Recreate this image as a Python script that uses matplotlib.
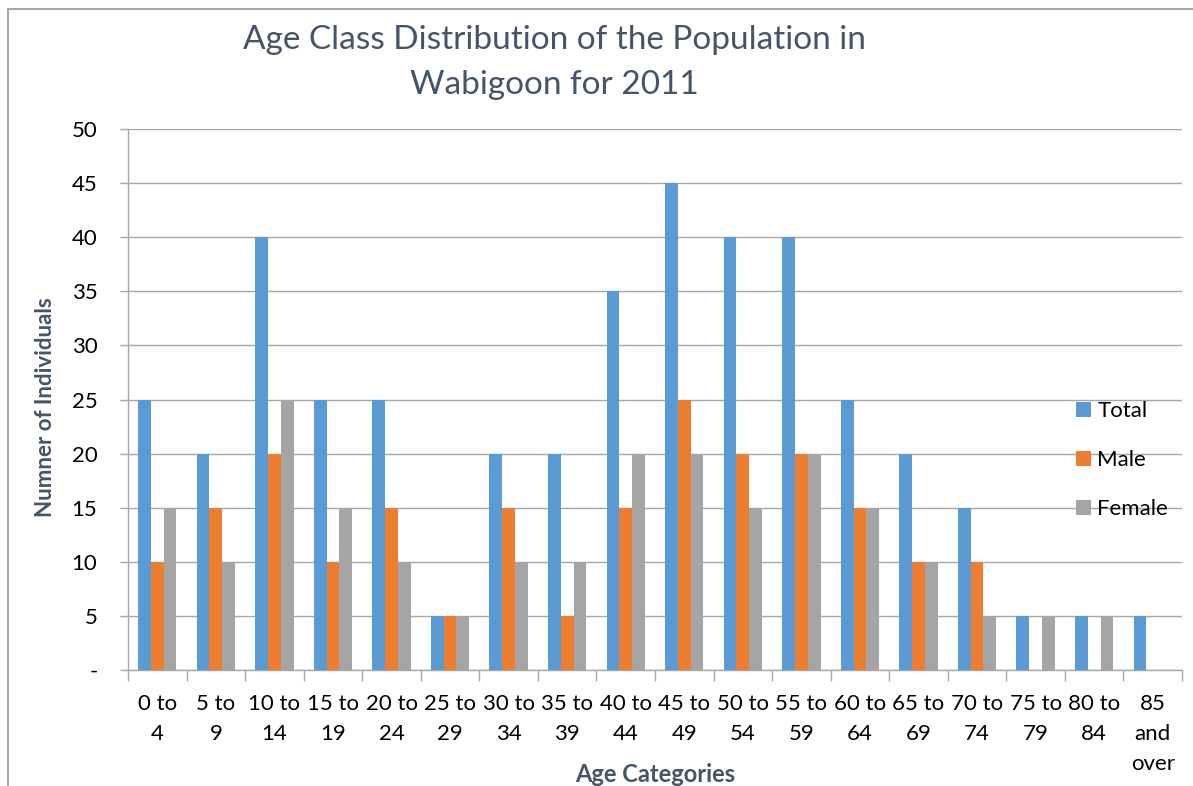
import matplotlib
matplotlib.use("Agg")
import matplotlib.pyplot as plt
import numpy as np
from matplotlib.patches import Rectangle

categories = ["0 to\n4", "5 to\n9", "10 to\n14", "15 to\n19", "20 to\n24", "25 to\n29",
              "30 to\n34", "35 to\n39", "40 to\n44", "45 to\n49", "50 to\n54", "55 to\n59",
              "60 to\n64", "65 to\n69", "70 to\n74", "75 to\n79", "80 to\n84", "85\nand\nover"]
total = [25, 20, 40, 25, 25, 5, 20, 20, 35, 45, 40, 40, 25, 20, 15, 5, 5, 5]
male = [10, 15, 20, 10, 15, 5, 15, 5, 15, 25, 20, 20, 15, 10, 10, 0, 0, 0]
female = [15, 10, 25, 15, 10, 5, 10, 10, 20, 20, 15, 20, 15, 10, 5, 5, 5, 0]
yticks = [0, 5, 10, 15, 20, 25, 30, 35, 40, 45, 50]
ytick_labels = ["-", "5", "10", "15", "20", "25", "30", "35", "40", "45", "50"]

FONT = ["Lato", "DejaVu Sans"]
plt.rcParams["font.family"] = FONT
SLATE = "#44546A"
GRID = "#A6A6A6"

W, H = 1193, 786
fig = plt.figure(figsize=(W / 100, H / 100), dpi=100)
ax = fig.add_axes([128 / W, 1 - 670 / H, (1182 - 128) / W, (670 - 129) / H])

x = np.arange(len(categories))
bw = 0.218
ax.bar(x - bw, total, bw, color="#5B9BD5", label="Total", zorder=3)
ax.bar(x, male, bw, color="#ED7D31", label="Male", zorder=3)
ax.bar(x + bw, female, bw, color="#A5A5A5", label="Female", zorder=3)

ax.set_xlim(-0.5, len(categories) - 0.5)
ax.set_ylim(0, 50)
ax.set_yticks(yticks)
ax.set_yticklabels(ytick_labels, fontsize=16, color="black")
ax.yaxis.grid(True, color=GRID, linewidth=1.0, zorder=0)
ax.tick_params(axis="y", length=6, color=GRID, width=1.0, pad=16)

ax.set_xticks(np.arange(len(categories) + 1) - 0.5)
ax.set_xticklabels([])
ax.set_xticks(x, minor=True)
ax.set_xticklabels(categories, minor=True, fontsize=16, linespacing=1.64, va="top")
ax.tick_params(axis="x", which="major", length=8, color=GRID, width=1.0)
ax.tick_params(axis="x", which="minor", length=0, pad=17)

for s in ["top", "right"]:
    ax.spines[s].set_visible(False)
for s in ["left", "bottom"]:
    ax.spines[s].set_color(GRID)
    ax.spines[s].set_linewidth(1.0)

ax.set_ylabel("Numner of Individuals", fontsize=16, fontweight="bold", color=SLATE)
ax.yaxis.set_label_coords(-0.068, 0.486)
ax.set_xlabel("Age Categories", fontsize=17, fontweight="bold", color=SLATE)
ax.xaxis.set_label_coords(0.5, -0.172)

fig.text(554 / W, 1 - 40 / H, "Age Class Distribution of the Population in", ha="center", va="center",
         fontsize=24, color=SLATE)
fig.text(554 / W, 1 - 85 / H, "Wabigoon for 2011", ha="center", va="center",
         fontsize=24, color=SLATE)

leg = ax.legend(loc="upper left", bbox_to_anchor=(1065 / W, 1 - 390 / H), bbox_transform=fig.transFigure,
                frameon=False, fontsize=16, handlelength=0.65, handleheight=0.65, handletextpad=0.3,
                labelspacing=1.3, borderpad=0)

fig.patches.append(Rectangle((8 / W, -0.01), 1.0, 1 - 9 / H + 0.01, transform=fig.transFigure,
                             fill=False, edgecolor="#A6A6A6", linewidth=1.5))

fig.savefig("out.png", dpi=100)
